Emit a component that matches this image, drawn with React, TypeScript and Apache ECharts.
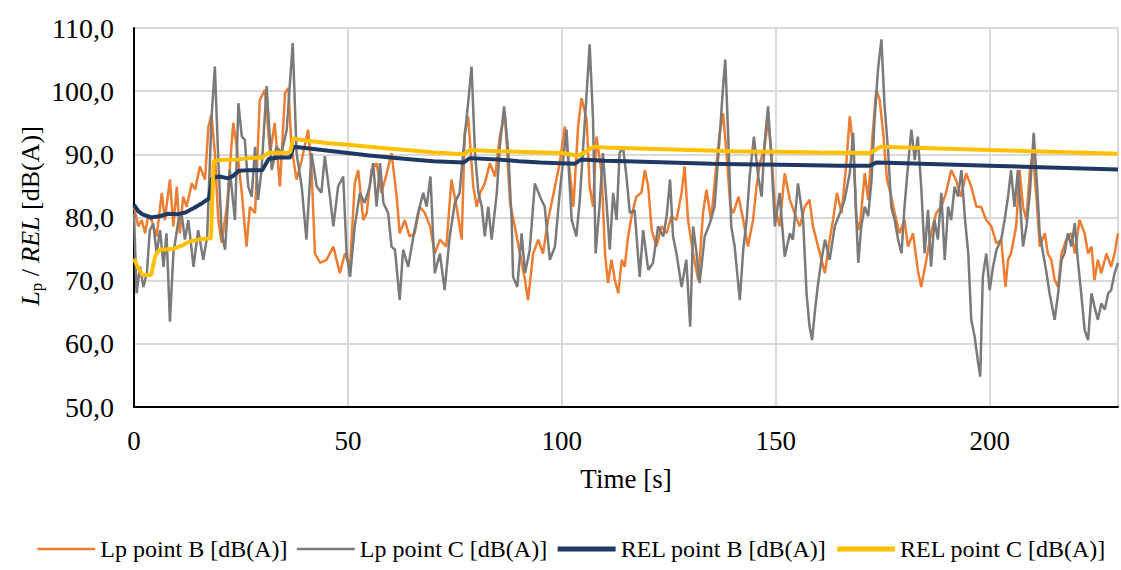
import React, { useEffect, useRef } from "react";
import * as echarts from "echarts";

// Time [s] / level [dB(A)] pairs
const lpPointB: [number, number][] = [
  [0,81.7],[1,78.6],[1.8,79.6],[2.6,77.5],[3.3,80.2],[4.1,79.6],[5.3,77],[6.5,83.9],[7.2,79.6],[8.4,86],[9.2,78.6],[10,84.9],[10.7,77.5],[11.5,83.3],[12.3,81.7],[13.5,85.4],[14.3,84.4],[15.4,88.1],[16.6,86],[17.4,94.4],[18.1,96.3],[18.9,90.2],[19.7,79.6],[20.5,76],[21.7,81.7],[23.2,95],[24,91.2],[25.2,83.9],[26.3,75.4],[27.1,81.7],[28.3,80.7],[29.4,98.6],[30.6,100.2],[31.8,90.2],[32.9,95],[34.1,84.9],[35.3,99.7],[36.1,100.5],[36.8,91.2],[38,86],[39.2,89.1],[40.7,93.9],[41.5,87.5],[42.3,74.3],[43.5,72.8],[45,73.3],[46.6,75.4],[48.1,71.2],[49.3,74.3],[50.5,72.2],
  [51.6,85.4],[52.4,87.5],[53.6,79.6],[54.4,80.7],[55.5,87.5],[56.7,88.6],[57.8,83.9],[58.9,86.5],[60.2,90.2],[61.4,83.3],[62.1,77.5],[63.3,79.6],[64.4,77],[65.6,77.5],[66.8,81.7],[68,80.7],[69.2,78.6],[70.3,74.3],[71.5,76.5],[73,75.4],[74.2,86],[75.4,81.7],[76.6,76.5],[77.3,93.4],[78.1,96],[79.3,84.9],[80.1,81.7],[80.9,83.9],[82,85.4],[83.2,88.6],[84.4,86.5],[85.5,92.8],[86.7,96.5],[87.9,82.3],[89,78.6],[90.2,74.3],[91.4,70.1],[92.1,66.9],[93.3,74.3],[94.5,76.5],[95.6,74.3],[96.8,79.6],[98.4,84.9],[99.5,88.6],[100.7,94.4],[101.9,87],[102.7,81.7],[103.8,94.4],[104.6,98.9],[105.8,95.5],
  [106.5,84.9],[107.3,81.7],[108.1,92.8],[109.3,87],[110.1,74.3],[110.8,69.6],[111.6,73.3],[112.4,70.1],[113.2,68],[114,73.3],[114.7,72.2],[115.5,77],[116.3,80.2],[117.4,83.3],[118.6,83.9],[119.4,87.5],[120.2,84.9],[121,78],[122.1,75.4],[123.3,78.6],[124.5,77.5],[125.6,80.2],[126.8,79.6],[128,83.9],[128.7,88.1],[129.5,79.6],[130.7,74.3],[131.9,70.1],[133,80.7],[133.8,84.4],[134.9,79.6],[136.1,88.1],[136.9,93.4],[137.7,96.5],[138.5,90.2],[139.4,81.7],[140.1,80.7],[141.3,83.3],[142.4,79.6],[143.5,75.4],[144.7,79.6],[145.5,84.9],[146.3,88.6],[147.4,91.2],[148.2,95.5],[149,90.2],[149.8,81.7],[150.9,78.6],[152.1,87],[153.3,82.8],[154.4,80.7],[155.6,78.6],[156.8,81.7],[157.9,82.8],
  [158.7,78.6],[159.9,75.4],[160.7,73.3],[161.5,71.2],[162.6,76.5],[163.4,79.6],[164.3,83.9],[165.4,80.7],[166.5,88.6],[167.3,96],[168.1,91.2],[168.9,79.6],[169.6,78],[170.8,87],[171.6,82.8],[172.6,92.8],[173.5,100.2],[174.3,98.6],[175.2,92.8],[176,86],[176.8,83.9],[177.8,80.7],[178.9,77.5],[180.1,79.6],[180.9,75.4],[182.1,77.5],[183.2,71.7],[184,69],[185.2,73.3],[186.3,77.5],[187.5,80.7],[188.7,81.7],[189.8,83.9],[191,87.5],[192.1,86],[193.3,83.3],[194.5,87],[195.7,84.9],[196.9,81.7],
  [198,81.7],[199.2,79.6],[200.4,78.6],[201.6,75.9],[202.7,76.5],[203.7,69],[204.3,73.3],[205,74.3],[206.2,78.6],[207,87.5],[207.8,81.7],[208.6,79.6],[209.4,87.5],[210.1,90.2],[211.1,81.7],[211.7,75.4],[212.9,77.5],[213.6,74.3],[214.4,73.3],[215.2,70.1],[216,69],[216.8,74.3],[217.9,76.5],[219.1,77.5],[219.9,74.3],[221,79.6],[222.2,77.5],[223,74.3],[223.8,75.4],[224.5,70.1],[225.3,73.3],[226.1,71.2],[227.3,74.3],[228.4,72.2],[229.2,74.3],[230,77.5]
];

const lpPointC: [number, number][] = [
  [0,80.7],[0.6,68],[1.4,72.2],[2.2,69],[3,71.2],[3.7,78],[4.5,79],[5.3,74.3],[6.1,78],[6.9,72.2],[7.6,77.5],[8.4,63.5],[9.2,74.3],[10.4,79.6],[11.1,80.7],[11.9,76.5],[12.7,79.6],[13.9,72.2],[15,78],[16.2,73.3],[17.1,77],[18.1,95.5],[18.9,103.9],[19.7,89.1],[20.5,77.5],[21.3,74.9],[22.4,87.5],[23.6,79.6],[24.4,98.1],[25.2,92.8],[25.9,92.3],[26.7,84.9],[27.5,83.3],[28.3,91.2],[29,82.8],[29.8,87.5],[31,100.8],[32.2,87.5],[33.3,91.2],[34.5,90.2],[35.7,93.9],[37.1,107.6],[38,90.2],[39.2,84.9],[40.3,76.5],[41.5,90.2],[42.7,84.9],[43.8,83.9],[44.6,89.7],[45.8,83.3],[46.6,78.6],[47.7,84.9],[48.9,86.5],[49.7,74.3],[50.5,70.6],
  [51.6,78.6],[52.8,83.9],[53.9,82.3],[55.1,84.9],[55.9,88.6],[56.7,81.7],[57.5,88.6],[58.3,82.3],[59.4,80.7],[60.2,75.4],[61,74.9],[62.1,66.9],[62.9,74.9],[64.1,72.2],[65.3,77],[66.4,80.7],[67.6,83.9],[68.4,81.7],[69.3,86.5],[70.3,71.2],[71.5,74.3],[72.6,68.5],[73.8,77],[75,82.3],[76.1,83.9],[77.3,92.8],[78.1,98.1],[78.9,103.9],[79.7,90.2],[80.5,83.9],[81.3,81.7],[82,77],[82.8,81.7],[83.6,76.5],[84.8,83.9],[85.5,91.2],[86.5,97.6],[87.5,90.2],[88.3,79.1],[88.6,70.6],[89.6,69],[90.6,77.5],[91.4,71.2],[92.5,74.9],[93.7,85.4],[94.9,83.3],[96,81.7],[97.2,73.3],[98.4,75.4],[99.5,83.9],[100.3,89.1],[101.1,93.9],[102.3,79.6],[103.4,77],[104.2,82.8],[105.4,95.5],[106.2,104],[106.5,107.4],
  [107.3,95.5],[107.9,74.3],[108.8,81.7],[109.6,90.2],[110.4,82.8],[111.2,74.9],[112,83.9],[112.8,79.6],[113.5,90.2],[114.3,91.2],[115.1,86.5],[115.9,80.7],[117,81.2],[118.2,70.6],[119,78],[120.2,71.7],[121.3,72.8],[122.5,78.6],[123.7,77],[124.5,80.2],[125.3,86],[126,77],[126.8,74.3],[128,69],[129.1,73.3],[130,62.7],[130.7,78.6],[131.5,74.3],[132.2,69.6],[133.4,77],[134.6,79.1],[135.7,81.7],[136.9,92.8],[137.7,100.8],[138.2,105],[138.9,92.8],[139.6,78.6],[140.4,75.4],[141.6,66.9],[142.4,74.9],[143.2,79.6],[143.9,86.5],[144.9,92.8],[145.9,86.5],[146.7,83.3],[147.4,91.8],[148.2,97.6],[149,89.1],[149.8,78.6],[150.9,83.9],[152.1,73.8],[153.3,77.5],[154,76.5],[155.2,85.4],[156.4,79.6],[157.2,68],[157.9,62.7],
  [158.5,60.6],[159.1,64.8],[159.9,69.6],[160.7,73.3],[161.5,76.5],[162.6,73.3],[163.8,78.6],[165,80.7],[166.1,82.8],[167.3,87],[168.1,93.4],[168.7,81.7],[169.3,72.8],[170,78.6],[170.8,81.7],[171.6,80.2],[172.4,86],[173.1,95.5],[173.9,103.4],[174.7,108.2],[175.4,98.1],[176.3,90.2],[177,81.7],[177.8,79.6],[178.6,76.5],[179.4,74.3],[180.1,81.7],[180.9,88.1],[181.7,93.9],[182.5,89.1],[183.2,92.8],[184,84.9],[184.8,74.3],[185.6,81.2],[186.3,72.2],[187.1,79.6],[187.9,76.5],[188.7,83.9],[189.5,73.3],[190.3,81.7],[191,79.6],[191.8,84.9],[192.6,83.3],[193.4,87.5],[194.2,80],[195,74.3],[195.7,63.8],[196.5,61.1],[197.3,57],[197.8,54.8],[198.4,70.6],[199.2,74.3],[200,68.5],[200.8,72.2],[201.6,74.9],[202.7,76.5],[203.5,79.6],[204.3,83.3],[205,87.5],[205.8,81.7],[206.6,87.5],[207.8,75.4],[208.6,78.6],[209.4,83.9],[210.3,93.4],[211.1,84.9],[211.7,77.5],[212.5,74.3],[213.3,71.2],[214,68],[215.2,63.8],[216,68],[216.8,73.3],[217.5,74.3],[218.3,77.5],[219.1,75.4],[219.9,79.1],[220.6,73.3],[221.4,68],[222.2,62.2],[223,60.6],[223.8,68],[224.5,65.9],[225.3,63.8],[226.1,66.4],[226.9,65.4],[227.7,68],[228.4,68.5],[229.2,71.2],[230,72.8]
];

const relPointB: [number, number][] = [
  [0,82],[1,81],[2,80.5],[4,80],[6,80.2],[8,80.6],[10,80.5],[12,80.8],[14,81.5],[16,82.3],[17.5,83],[18.3,86.3],[20,86.5],[22,86.2],[23,86.5],[24.5,87.4],[27,87.5],[30,87.5],[31.5,89.3],[34,89.5],[36.5,89.5],[37.3,91.2],[40,91],[45,90.6],[50,90.2],[55,89.8],[60,89.5],[65,89.2],[70,88.9],[77,88.7],[78.5,89.4],[85,89.2],[90,88.9],[95,88.7],[99.5,88.6],[103,88.5],[104.5,89.2],[110,89],[115,88.9],[125,88.7],[135,88.5],[145,88.4],[155,88.3],[165,88.2],[172,88.2],[173.5,88.7],[180,88.6],[190,88.4],[200,88.2],[210,88],[220,87.8],[230,87.6]
];

const relPointC: [number, number][] = [
  [0,73.5],[1,72],[2,70.9],[4,70.9],[5,74],[6,74.9],[9,75],[11,75.5],[13,76.2],[15,76.5],[18,76.7],[18.6,88.9],[20,89.1],[24,89.2],[27,89.4],[30,89.5],[31.3,90.2],[36.5,90.3],[37.2,92.5],[40,92.2],[45,91.8],[50,91.5],[55,91.2],[60,90.9],[65,90.6],[70,90.3],[77,90],[78.5,90.7],[85,90.5],[90,90.4],[95,90.3],[100,90.2],[103.5,89.8],[104.2,89.9],[107.5,91.2],[110,91.1],[120,90.9],[130,90.7],[140,90.5],[150,90.4],[160,90.3],[172,90.2],[174.5,91.2],[180,91.1],[190,90.9],[200,90.7],[210,90.5],[220,90.3],[230,90.1]
];

const seriesNames = [
  "Lp point B [dB(A)]",
  "Lp point C [dB(A)]",
  "REL point B [dB(A)]",
  "REL point C [dB(A)]",
];

const FONT = "Liberation Serif";

export default function App() {
  const ref = useRef<HTMLDivElement>(null);

  useEffect(() => {
    if (!ref.current) return;
    const chart = echarts.init(ref.current, null, { renderer: "svg" });
    const mk = (name: string, data: [number, number][], color: string, width: number) => ({
      name,
      type: "line",
      data,
      symbol: "none",
      showSymbol: false,
      lineStyle: { color, width },
      itemStyle: { color },
    });
    chart.setOption({
      animation: false,
      textStyle: { fontFamily: FONT },
      grid: { left: 134, right: 3, top: 28, bottom: 163, containLabel: false },
      xAxis: {
        type: "value",
        min: 0,
        max: 230,
        interval: 50,
        axisLine: { show: true, lineStyle: { color: "#000", width: 2 } },
        axisTick: { show: false },
        splitLine: { show: true, lineStyle: { color: "#d9d9d9", width: 2 } },
        axisLabel: {
          fontFamily: FONT,
          fontSize: 27,
          color: "#000",
          margin: 20,
          showMaxLabel: false,
        },
        name: "Time [s]",
        nameLocation: "middle",
        nameGap: 58,
        nameTextStyle: { fontFamily: FONT, fontSize: 27, color: "#000" },
      },
      yAxis: {
        type: "value",
        min: 50,
        max: 110,
        interval: 10,
        axisLine: { show: true, lineStyle: { color: "#000", width: 2 } },
        axisTick: { show: false },
        splitLine: { show: true, lineStyle: { color: "#d9d9d9", width: 2 } },
        axisLabel: {
          fontFamily: FONT,
          fontSize: 28,
          color: "#000",
          margin: 20,
          formatter: (v: number) => v.toFixed(1).replace(".", ","),
        },
      },
      legend: {
        left: 36,
        top: 537,
        width: 1085,
        padding: 0,
        itemWidth: 58,
        itemHeight: 3,
        itemGap: 8,
        itemStyle: { opacity: 0 },
        textStyle: { fontFamily: FONT, fontSize: 24, color: "#000" },
        data: [
          { name: seriesNames[0], lineStyle: { width: 2.5 } },
          { name: seriesNames[1], lineStyle: { width: 2.5 } },
          { name: seriesNames[2], lineStyle: { width: 5 } },
          { name: seriesNames[3], lineStyle: { width: 5 } },
        ],
      },
      graphic: [
        {
          type: "text",
          x: 30,
          y: 216,
          rotation: Math.PI / 2,
          style: {
            text: "{i|L}{s|p}{n| / }{i|REL}{n| [dB(A)]}",
            align: "center",
            verticalAlign: "middle",
            fill: "#000",
            rich: {
              i: { fontFamily: FONT, fontSize: 26, fontStyle: "italic", lineHeight: 30, verticalAlign: "middle" },
              n: { fontFamily: FONT, fontSize: 26, lineHeight: 30, verticalAlign: "middle" },
              s: { fontFamily: FONT, fontSize: 17, lineHeight: 30, verticalAlign: "bottom" },
            },
          },
        },
      ],
      series: [
        mk(seriesNames[0], lpPointB, "#ED7D31", 2.5),
        mk(seriesNames[1], lpPointC, "#7A7A7A", 2.5),
        mk(seriesNames[2], relPointB, "#1F3864", 4),
        mk(seriesNames[3], relPointC, "#FFC000", 4),
      ],
    });
    return () => chart.dispose();
  }, []);

  return (
    <div
      ref={ref}
      style={{ position: "absolute", left: 0, top: 0, width: 1121, height: 570 }}
    />
  );
}
